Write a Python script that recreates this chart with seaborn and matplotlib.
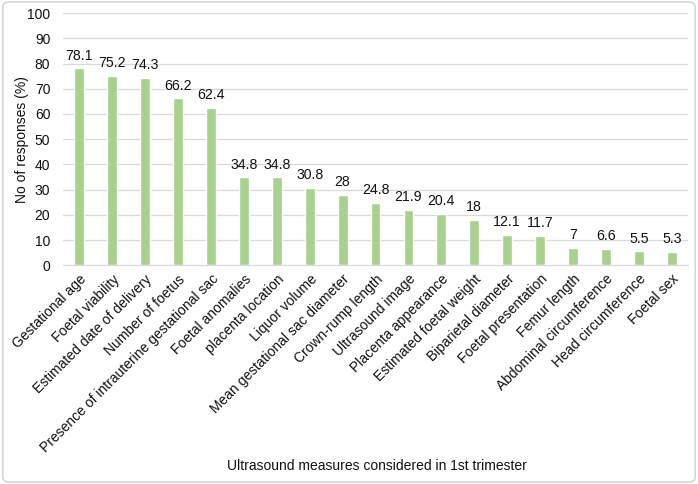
import matplotlib
matplotlib.use("Agg")
import matplotlib.pyplot as plt
import seaborn as sns
import pandas as pd
from matplotlib.patches import FancyBboxPatch

# ==============================
# DATA
# ==============================
measures = [
    "Gestational age", "Foetal viability", "Estimated date of delivery",
    "Number of foetus", "Presence of intrauterine gestational sac",
    "Foetal anomalies", "placenta location", "Liquor volume",
    "Mean gestational sac diameter", "Crown-rump length", "Ultrasound image",
    "Placenta appearance", "Estimated foetal weight", "Biparietal diameter",
    "Foetal presentation", "Femur length", "Abdominal circumference",
    "Head circumference", "Foetal sex",
]
responses = [78.1, 75.2, 74.3, 66.2, 62.4, 34.8, 34.8, 30.8, 28, 24.8,
             21.9, 20.4, 18, 12.1, 11.7, 7, 6.6, 5.5, 5.3]
value_labels = ["78.1", "75.2", "74.3", "66.2", "62.4", "34.8", "34.8", "30.8",
                "28", "24.8", "21.9", "20.4", "18", "12.1", "11.7", "7",
                "6.6", "5.5", "5.3"]

df = pd.DataFrame({"measure": measures, "pct": responses})

# ==============================
# PLOT
# ==============================
sns.set_style("white")
plt.rcParams["font.family"] = ["Liberation Sans", "DejaVu Sans"]

fig = plt.figure(figsize=(6.98, 4.84), dpi=100)
ax = fig.add_axes([0.09, 0.452, 0.896, 0.521])

sns.barplot(data=df, x="measure", y="pct", color="#A9D18E", saturation=1,
            width=0.3, ax=ax)

for i, (v, lab) in enumerate(zip(responses, value_labels)):
    ax.text(i, v + 2.2, lab, ha="center", va="bottom", fontsize=10.2, color="#111111")

ax.set_ylim(0, 100)
ax.set_yticks(range(0, 101, 10))
ax.set_xlim(-0.5, len(measures) - 0.5)
ax.yaxis.grid(True, color="#D9D9D9", linewidth=0.9)
ax.set_axisbelow(True)
for s in ["top", "right", "left"]:
    ax.spines[s].set_visible(False)
ax.spines["bottom"].set_color("#D9D9D9")
ax.tick_params(axis="both", length=0, labelsize=10, colors="#111111")
ax.tick_params(axis="y", pad=9)
ax.set_xticks(range(len(measures)))
ax.set_xticklabels(measures, rotation=45, ha="right", rotation_mode="anchor",
                   fontsize=10)
ax.tick_params(axis="x", pad=5)

ax.set_ylabel("No of responses (%)", fontsize=10, color="#111111", labelpad=-1)
ax.set_xlabel("")
fig.text(0.54, 0.037, "Ultrasound measures considered in 1st trimester",
         ha="center", va="center", fontsize=10, color="#111111")

border = FancyBboxPatch((0.004, 0.004), 0.992, 0.992,
                        boxstyle="round,pad=0,rounding_size=0.01",
                        transform=fig.transFigure, fill=False,
                        edgecolor="#D0D0D0", linewidth=1)
fig.patches.append(border)

fig.savefig("out.png", dpi=100)
